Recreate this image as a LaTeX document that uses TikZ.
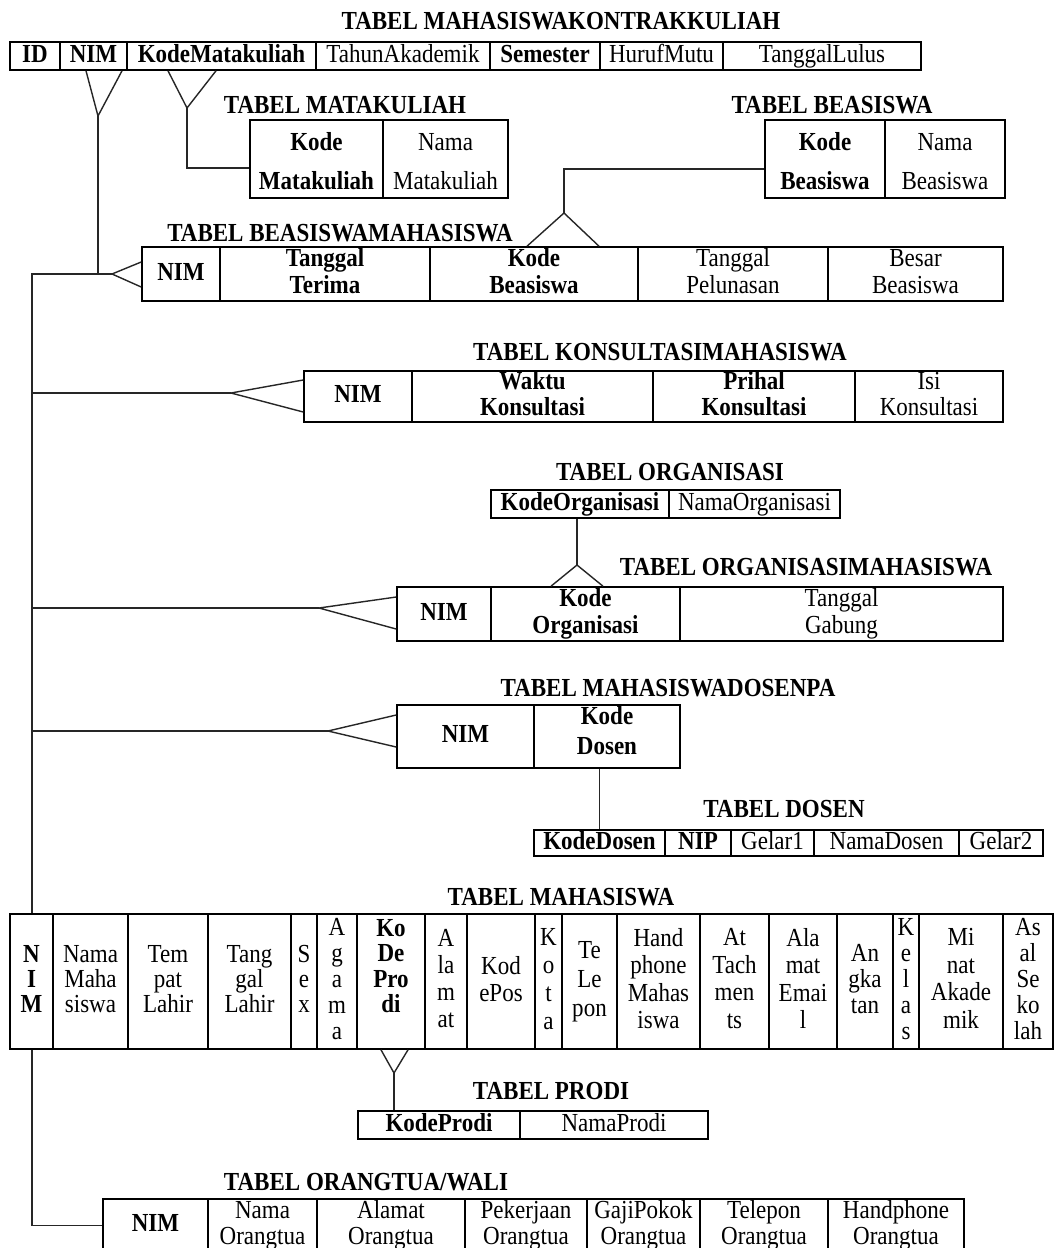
\documentclass[tikz,border=0pt]{standalone}
\usepackage{fontspec}
\setmainfont{Liberation Serif}[FakeStretch=0.885]
\usetikzlibrary{calc}
\newcommand\fs[1]{\fontsize{26}{#1}\selectfont}
\newcommand\mystrut{\rule[-6pt]{0pt}{24pt}}
\tikzset{
  box/.style={draw=black, line width=1.6pt, inner sep=0pt},
  txt/.style={align=center, inner sep=0pt, font=\fs{26},
    execute at begin node=\mystrut, execute at end node=\mystrut},
  bb/.style={font=\fs{26}\bfseries},
  bb39/.style={font=\fs{39}\bfseries},
  rr39/.style={font=\fs{39}},
  ttl/.style={inner sep=0pt, font=\fs{26}\bfseries},
  conn/.style={draw=black!85, line width=1.4pt},
}
\newcommand\tcell[7][]{%
  \node[box, minimum width={#4-#3}, minimum height={#6-#5}] (#2) at ({(#3+#4)/2},{(#5+#6)/2}) {};
  \node[txt,#1] (#2t) at (#2.center) {#7};}
\begin{document}
\begin{tikzpicture}[x=1pt,y=-1pt]
\useasboundingbox (0,0) rectangle (1056,1248);
\clip (0,0) rectangle (1056,1248);
\fill[white] (0,0) rectangle (1056,1248);

% ---------- titles ----------
\node[ttl] (tk) at (561,21) {TABEL MAHASISWAKONTRAKKULIAH};
\node[ttl] (tmk) at (345,105) {TABEL MATAKULIAH};
\node[ttl] (tbs) at (832,105) {TABEL BEASISWA};
\node[ttl] (tbm) at (340,233) {TABEL BEASISWAMAHASISWA};
\node[ttl] (tkn) at (660,352) {TABEL KONSULTASIMAHASISWA};
\node[ttl] (tog) at (670,472) {TABEL ORGANISASI};
\node[ttl] (tom) at (806,567) {TABEL ORGANISASIMAHASISWA};
\node[ttl] (tdp) at (668,688) {TABEL MAHASISWADOSENPA};
\node[ttl] (tdd) at (784,809) {TABEL DOSEN};
\node[ttl] (tmh) at (561,897) {TABEL MAHASISWA};
\node[ttl] (tpr) at (551,1091) {TABEL PRODI};
\node[ttl] (tot) at (366,1182) {TABEL ORANGTUA/WALI};

% ---------- MAHASISWAKONTRAKKULIAH ----------
\tcell[bb]{k1id}{10}{60}{42}{70}{ID}
\tcell[bb]{k1nim}{60}{127}{42}{70}{NIM}
\tcell[bb]{k1km}{127}{316}{42}{70}{KodeMatakuliah}
\tcell{k1ta}{316}{490}{42}{70}{TahunAkademik}
\tcell[bb]{k1sm}{490}{600}{42}{70}{Semester}
\tcell{k1hm}{600}{723}{42}{70}{HurufMutu}
\tcell{k1tl}{723}{921}{42}{70}{TanggalLulus}

% ---------- MATAKULIAH ----------
\tcell[bb39,yshift=-5]{mk1}{250}{383}{120}{198}{Kode\\Matakuliah}
\tcell[rr39,yshift=-5]{mk2}{383}{508}{120}{198}{Nama\\Matakuliah}

% ---------- BEASISWA ----------
\tcell[bb39,yshift=-5]{bs1}{765}{885}{120}{198}{Kode\\Beasiswa}
\tcell[rr39,yshift=-5]{bs2}{885}{1005}{120}{198}{Nama\\Beasiswa}

% ---------- BEASISWAMAHASISWA ----------
\tcell[bb]{bm1}{142}{220}{247}{301}{NIM}
\tcell[font=\fs{27}\bfseries]{bm2}{220}{430}{247}{301}{Tanggal\\Terima}
\tcell[font=\fs{27}\bfseries]{bm3}{430}{638}{247}{301}{Kode\\Beasiswa}
\tcell[font=\fs{27}]{bm4}{638}{828}{247}{301}{Tanggal\\Pelunasan}
\tcell[font=\fs{27}]{bm5}{828}{1003}{247}{301}{Besar\\Beasiswa}

% ---------- KONSULTASIMAHASISWA ----------
\tcell[bb]{kn1}{304}{412}{371}{422}{NIM}
\tcell[bb]{kn2}{412}{653}{371}{422}{Waktu\\Konsultasi}
\tcell[bb]{kn3}{653}{855}{371}{422}{Prihal\\Konsultasi}
\tcell{kn4}{855}{1003}{371}{422}{Isi\\Konsultasi}

% ---------- ORGANISASI ----------
\tcell[bb]{og1}{491}{669}{490}{518}{KodeOrganisasi}
\tcell{og2}{669}{840}{490}{518}{NamaOrganisasi}

% ---------- ORGANISASIMAHASISWA ----------
\tcell[bb]{om1}{397}{491}{587}{641}{NIM}
\tcell[font=\fs{27}\bfseries]{om2}{491}{680}{587}{641}{Kode\\Organisasi}
\tcell[font=\fs{27}]{om3}{680}{1003}{587}{641}{Tanggal\\Gabung}

% ---------- MAHASISWADOSENPA ----------
\tcell[bb]{dp1}{397}{534}{705}{768}{NIM}
\tcell[font=\fs{30}\bfseries,yshift=3]{dp2}{534}{680}{705}{768}{Kode\\Dosen}

% ---------- DOSEN ----------
\tcell[bb]{dd1}{534}{665}{830}{856}{KodeDosen}
\tcell[bb]{dd2}{665}{731}{830}{856}{NIP}
\tcell{dd3}{731}{814}{830}{856}{Gelar1}
\tcell{dd4}{814}{959}{830}{856}{NamaDosen}
\tcell{dd5}{959}{1043}{830}{856}{Gelar2}

% ---------- MAHASISWA ----------
\tcell[font=\fs{25}\bfseries]{m1}{10}{53}{914}{1049}{N\\I\\M}
\tcell[font=\fs{25}]{m2}{53}{128}{914}{1049}{Nama\\Maha\\siswa}
\tcell[font=\fs{25}]{m3}{128}{208}{914}{1049}{Tem\\pat\\Lahir}
\tcell[font=\fs{25}]{m4}{208}{291}{914}{1049}{Tang\\gal\\Lahir}
\tcell[font=\fs{25}]{m5}{291}{317}{914}{1049}{S\\e\\x}
\tcell[font=\fs{26}]{m6}{317}{357}{914}{1049}{A\\g\\a\\m\\a}
\tcell[font=\fs{25.5}\bfseries,yshift=12.5]{m7}{357}{425}{914}{1049}{Ko\\De\\Pro\\di}
\tcell[font=\fs{27}]{m8}{425}{467}{914}{1049}{A\\la\\m\\at}
\tcell[font=\fs{27}]{m9}{467}{535}{914}{1049}{Kod\\ePos}
\tcell[font=\fs{28}]{m10}{535}{562}{914}{1049}{K\\o\\t\\a}
\tcell[font=\fs{29}]{m11}{562}{617}{914}{1049}{Te\\Le\\pon}
\tcell[font=\fs{27.5}]{m12}{617}{700}{914}{1049}{Hand\\phone\\Mahas\\iswa}
\tcell[font=\fs{27.5}]{m13}{700}{769}{914}{1049}{At\\Tach\\men\\ts}
\tcell[font=\fs{27.5}]{m14}{769}{837}{914}{1049}{Ala\\mat\\Emai\\l}
\tcell[font=\fs{26}]{m15}{837}{893}{914}{1049}{An\\gka\\tan}
\tcell[font=\fs{26}]{m16}{893}{919}{914}{1049}{K\\e\\l\\a\\s}
\tcell[font=\fs{27.5}]{m17}{919}{1003}{914}{1049}{Mi\\nat\\Akade\\mik}
\tcell[font=\fs{26}]{m18}{1003}{1053}{914}{1049}{As\\al\\Se\\ko\\lah}

% ---------- PRODI ----------
\tcell[bb]{pr1}{358}{520}{1111}{1139}{KodeProdi}
\tcell{pr2}{520}{708}{1111}{1139}{NamaProdi}

% ---------- ORANGTUA/WALI ----------
\tcell[bb]{ot1}{103}{208}{1199}{1252}{NIM}
\tcell{ot2}{208}{317}{1199}{1252}{Nama\\Orangtua}
\tcell{ot3}{317}{465}{1199}{1252}{Alamat\\Orangtua}
\tcell{ot4}{465}{587}{1199}{1252}{Pekerjaan\\Orangtua}
\tcell{ot5}{587}{700}{1199}{1252}{GajiPokok\\Orangtua}
\tcell{ot6}{700}{828}{1199}{1252}{Telepon\\Orangtua}
\tcell{ot7}{828}{964}{1199}{1252}{Handphone\\Orangtua}

% ---------- connector coordinates ----------
\coordinate (nimap) at (98,116);
\coordinate (bmap) at (112,274);
\coordinate (tt) at (32,274);
\coordinate (mkap) at (187,108);
\coordinate (bsap) at (564,213);
\coordinate (ksap) at (231,393);
\coordinate (ogap) at (577,565);
\coordinate (omap) at (319,608);
\coordinate (dpap) at (328,731);
\coordinate (prap) at (394,1073);

% NIM trunk
\draw[conn] ($(k1nim.south)+(-7.5,0)$) -- (nimap) -- ($(k1nim.south)+(28.5,0)$);
\draw[conn] (nimap) |- (bmap);
\draw[conn] (bmap) -- (tt) -- (tt |- m1.north);
\draw[conn] (tt |- m1.south) |- (ot1.west);
\draw[conn] ($(bm1.west)+(0,-12)$) -- (bmap) -- ($(bm1.west)+(0,13)$);

% Konsultasi
\draw[conn] (tt |- ksap) -- (ksap);
\draw[conn] ($(kn1.west)+(0,-16.5)$) -- (ksap) -- ($(kn1.west)+(0,15.5)$);

% Organisasi mahasiswa
\draw[conn] (tt |- omap) -- (omap);
\draw[conn] ($(om1.west)+(0,-17)$) -- (omap) -- ($(om1.west)+(0,15)$);

% Dosen PA
\draw[conn] (tt |- dpap) -- (dpap);
\draw[conn] ($(dp1.west)+(0,-21.5)$) -- (dpap) -- ($(dp1.west)+(0,10.5)$);

% Matakuliah
\draw[conn] ($(k1km.south)+(-53.5,0)$) -- (mkap) -- ($(k1km.south)+(-5.5,0)$);
\draw[conn] (mkap) |- ($(mk1.west)+(0,9)$);

% Beasiswa
\draw[conn] ($(bs1.west)+(0,10)$) -| (bsap);
\draw[conn] ($(bm3.north)+(-7,0)$) -- (bsap) -- ($(bm3.north)+(65,0)$);

% Organisasi
\draw[conn] ($(og1.south)+(-3,0)$) -- (ogap);
\draw[conn] ($(om2.north)+(-34.5,0)$) -- (ogap) -- ($(om2.north)+(17.5,0)$);

% Dosen
\draw[conn] (dd1.north) -- (dd1.north |- dp2.south);

% Prodi
\draw[conn] ($(m7.south)+(-10,0)$) -- (prap) -- ($(m7.south)+(17,0)$);
\draw[conn] (prap) -- (prap |- pr1.north);
\end{tikzpicture}
\end{document}
